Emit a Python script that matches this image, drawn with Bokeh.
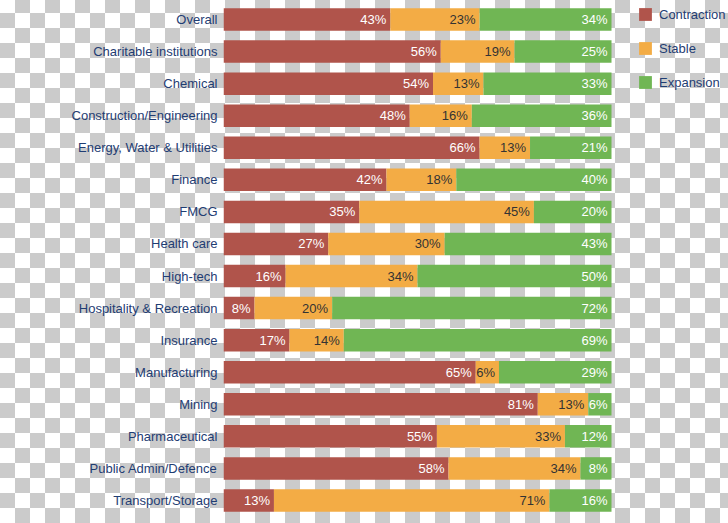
from bokeh.plotting import figure
from bokeh.models import ColumnDataSource, FactorRange, Range1d, Legend, LegendItem
from bokeh.core.properties import value
from bokeh.embed import file_html
from bokeh.resources import INLINE

categories = ["Overall", "Charitable institutions", "Chemical", "Construction/Engineering",
              "Energy, Water & Utilities", "Finance", "FMCG", "Health care", "High-tech",
              "Hospitality & Recreation", "Insurance", "Manufacturing", "Mining",
              "Pharmaceutical", "Public Admin/Defence", "Transport/Storage"]
contraction = [43, 56, 54, 48, 66, 42, 35, 27, 16, 8, 17, 65, 81, 55, 58, 13]
stable = [23, 19, 13, 16, 13, 18, 45, 30, 34, 20, 14, 6, 13, 33, 34, 71]
expansion = [34, 25, 33, 36, 21, 40, 20, 43, 50, 72, 69, 29, 6, 12, 8, 16]
series = ["Contraction", "Stable", "Expansion"]
colors = ["#b0544b", "#f3ac45", "#70b654"]
label_colors = ["#ffffff", "#333333", "#ffffff"]

NAVY = "#1f3d73"
FONT = "Liberation Sans"

src = ColumnDataSource(dict(cat=categories, Contraction=contraction, Stable=stable, Expansion=expansion))

# frame spans to the right edge so the legend (drawn inside it) is not clipped;
# bars (0..100%) occupy the left 388 px of the 505 px frame
p = figure(width=728, height=523, output_backend="svg", toolbar_location=None,
           y_range=FactorRange(factors=list(reversed(categories))),
           x_range=Range1d(0, 100 * 505 / 388),
           min_border_left=223, min_border_right=0, min_border_top=3, min_border_bottom=7)

renderers = p.hbar_stack(series, y="cat", height=0.7, color=colors, line_color=None, source=src)

# labels at the end of each segment
cum = [0] * len(categories)
for name, vals, lc in zip(series, [contraction, stable, expansion], label_colors):
    ends = [c + v for c, v in zip(cum, vals)]
    lsrc = ColumnDataSource(dict(cat=categories, x=ends, t=[f"{v}%" for v in vals]))
    p.text(x="x", y="cat", text="t", source=lsrc, x_offset=-4, text_align="right",
           text_baseline="middle", text_color=lc, text_font_size=value("13px"),
           text_font=value(FONT))
    cum = ends

p.xaxis.visible = False
p.xgrid.visible = False
p.ygrid.visible = False
p.yaxis.axis_line_color = None
p.yaxis.major_tick_line_color = None
p.yaxis.minor_tick_line_color = None
p.yaxis.major_label_standoff = 0
p.yaxis.major_label_text_font = FONT
p.yaxis.major_label_text_font_size = "13px"
p.yaxis.major_label_text_color = NAVY
p.outline_line_color = None
p.background_fill_alpha = 0
p.border_fill_alpha = 0

legend = Legend(items=[LegendItem(label=s, renderers=[r]) for s, r in zip(series, renderers)],
                location=(414, 426), orientation="vertical",
                glyph_width=16, glyph_height=16, label_height=16, spacing=18,
                label_standoff=6, padding=0, margin=0,
                label_text_font=FONT, label_text_font_size="13px", label_text_color=NAVY,
                background_fill_alpha=0, border_line_color=None)
p.add_layout(legend)

p.styles = {"background-image": "repeating-conic-gradient(#cbcbcb 0% 25%, #ffffff 0% 50%)",
            "background-size": "30px 30px", "background-position": "0px -2px"}

open("out.html", "w").write(file_html(p, INLINE))
